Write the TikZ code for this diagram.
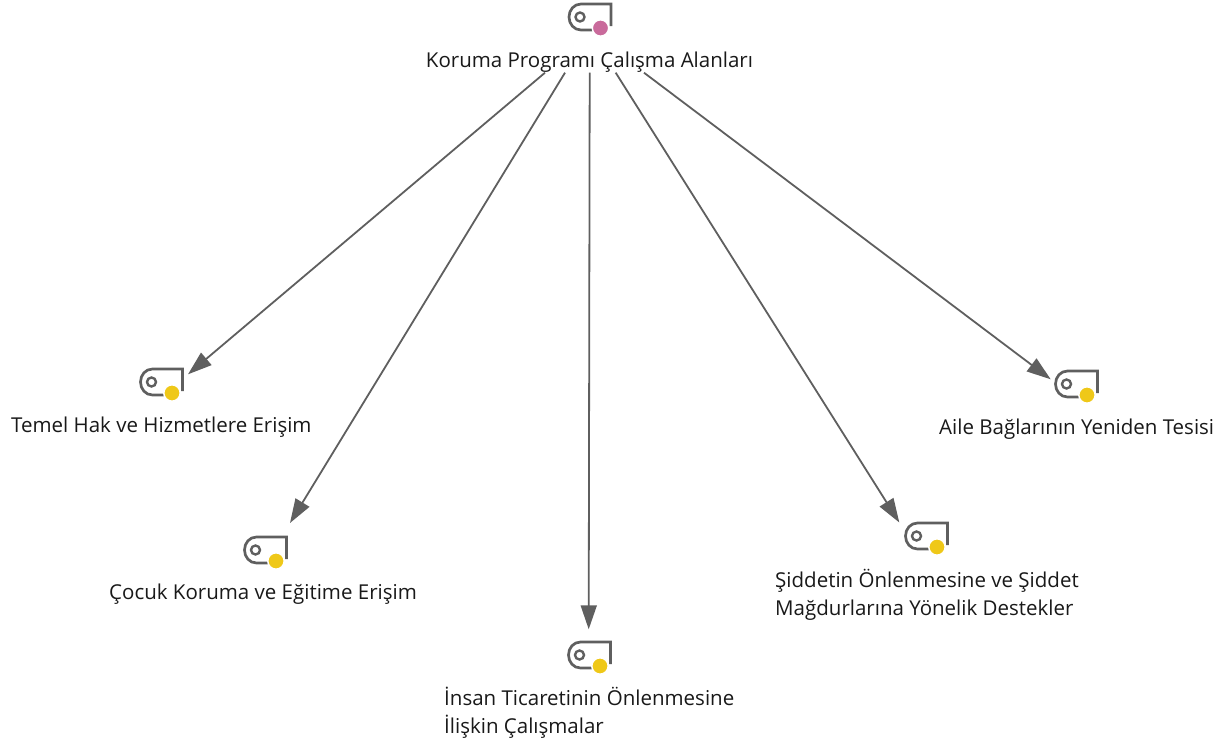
\documentclass[tikz,border=0pt]{standalone}
\usepackage{fontspec}
\setmainfont{Open Sans}
\usetikzlibrary{arrows.meta}
\definecolor{linegray}{HTML}{5F5F5F}
\definecolor{rootpink}{HTML}{C96A9B}
\definecolor{itemyellow}{HTML}{EFC818}
\tikzset{
    tagbox/.style={minimum width=43pt, minimum height=27pt, inner sep=0pt, outer sep=0pt},
    caption/.style={inner sep=0pt, align=left, font=\fontsize{20.5}{28}\selectfont, text=black!90},
    link/.style={-{Triangle[length=24pt, width=16pt]}, line width=1.8pt, draw=linegray, fill=linegray},
    pics/tag/.style={code={
        \draw[line width=2.7pt, draw=linegray]
            (21, 9) -- (21, -13) -- (-9, -13) .. controls (-16, -13) and (-21, -7) .. (-21, 0)
            .. controls (-21, 7) and (-16, 13) .. (-9, 13) -- (6, 13);
        \draw[line width=2.4pt, draw=linegray] (-10, 0) circle (4.5);
        \fill[#1, draw=white, line width=1.5pt] (10.5, 11) circle (8.2);
    }},
}
\begin{document}
\begin{tikzpicture}[x=1pt, y=-1pt]
    \useasboundingbox (0, 0) rectangle (1231, 742);
    % tags
    \node[tagbox] (root) at (590, 17) {};
    \node[tagbox] (temel) at (161.5, 382) {};
    \node[tagbox] (cocuk) at (265.5, 550) {};
    \node[tagbox] (insan) at (589.5, 655) {};
    \node[tagbox] (siddet) at (926.5, 536) {};
    \node[tagbox] (aile) at (1076.5, 384) {};
    \pic at (root) {tag=rootpink};
    \pic at (temel) {tag=itemyellow};
    \pic at (cocuk) {tag=itemyellow};
    \pic at (insan) {tag=itemyellow};
    \pic at (siddet) {tag=itemyellow};
    \pic at (aile) {tag=itemyellow};
    % labels
    \node[caption] (rootlabel) at (589.5, 62) {Koruma Programı Çalışma Alanları};
    \node[caption, anchor=west] (temellabel) at (11, 427) {Temel Hak ve Hizmetlere Erişim};
    \node[caption, anchor=west] (cocuklabel) at (109, 594.5) {Çocuk Koruma ve Eğitime Erişim};
    \node[caption, anchor=west] (insanlabel) at (444, 713) {İnsan Ticaretinin Önlenmesine\\İlişkin Çalışmalar};
    \node[caption, anchor=west] (siddetlabel) at (775, 595) {Şiddetin Önlenmesine ve Şiddet\\Mağdurlarına Yönelik Destekler};
    \node[caption, anchor=west] (ailelabel) at (939, 429.5) {Aile Bağlarının Yeniden Tesisi};
    % connectors
    \draw[link] ([xshift=-44.5pt, yshift=-10.7pt]rootlabel.center) -- ([xshift=5pt, yshift=-5.8pt]temel.north east);
    \draw[link] ([xshift=-24.5pt, yshift=-10.7pt]rootlabel.center) -- ([xshift=3pt, yshift=13.5pt]cocuk.north east);
    \draw[link] ([xshift=0.2pt, yshift=-10.7pt]rootlabel.center) -- ([xshift=-0.8pt, yshift=12.2pt]insan.north);
    \draw[link] ([xshift=26.2pt, yshift=-10.7pt]rootlabel.center) -- ([xshift=-5.7pt]siddet.north west);
    \draw[link] ([xshift=54.5pt, yshift=-10.7pt]rootlabel.center) -- ([xshift=-4.3pt, yshift=-8.8pt]aile.north west);
\end{tikzpicture}
\end{document}
